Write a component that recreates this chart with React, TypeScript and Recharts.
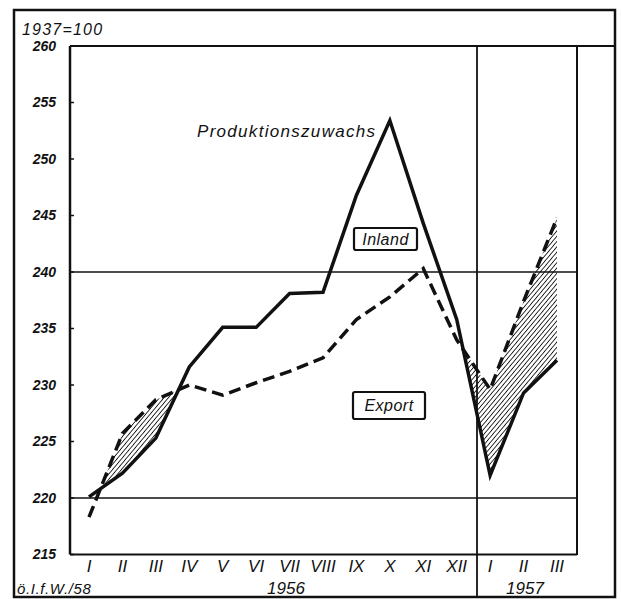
import { Area, ComposedChart, Line, ReferenceLine, XAxis, YAxis } from "recharts";

const months = ["I", "II", "III", "IV", "V", "VI", "VII", "VIII", "IX", "X", "XI", "XII", "I", "II", "III"];
const inland = [220.1, 222.2, 225.3, 231.6, 235.1, 235.1, 238.1, 238.2, 246.8, 253.4, 244.3, 235.8, 222.0, 229.3, 232.2];
const exportIdx = [218.3, 225.7, 228.7, 230.0, 229.1, 230.2, 231.2, 232.4, 235.8, 237.8, 240.3, 234.0, 229.6, 237.4, 244.8];
const yTicks = [215, 220, 225, 230, 235, 240, 245, 250, 255, 260];

const data = months.map((m, i) => ({
  key: `${i}`,
  month: m,
  inland: inland[i],
  exp: exportIdx[i],
}));

const font = "'Liberation Sans', Arial, sans-serif";
const narrow = "'Liberation Sans Narrow', 'Liberation Sans', sans-serif";

function YTick({ x, y, payload }: any) {
  return (
    <g>
      <text
        x={x}
        y={y}
        dy="0.35em"
        textAnchor="end"
        fontFamily={font}
        fontStyle="italic"
        fontWeight="bold"
        fontSize={14}
        fill="#111"
      >
        {payload.value}
      </text>
      <line x1={x + 14} x2={x + 18} y1={y} y2={y} stroke="#111" strokeWidth={1.5} />
    </g>
  );
}

function XTick({ x, y, payload, index }: any) {
  return (
    <text
      x={x}
      y={y}
      dy="0.71em"
      textAnchor="middle"
      fontFamily={narrow}
      fontStyle="italic"
      fontSize={17}
      fill="#111"
    >
      {months[index] ?? payload.value}
    </text>
  );
}

function Box({ x, y, w, h, label }: { x: number; y: number; w: number; h: number; label: string }) {
  return (
    <g>
      <rect x={x} y={y} width={w} height={h} rx={2} fill="#fff" stroke="#111" strokeWidth={2.2} />
      <text
        x={x + w / 2}
        y={y + h / 2}
        dy="0.35em"
        textAnchor="middle"
        fontFamily={font}
        fontStyle="italic"
        fontSize={16}
        letterSpacing={0.5}
        fill="#111"
      >
        {label}
      </text>
    </g>
  );
}

export default function App() {
  return (
    <div style={{ position: "absolute", left: 0, top: 0, width: 621, height: 599, background: "#fff" }}>
      <ComposedChart
        width={621}
        height={599}
        data={data}
        margin={{ top: 46, right: 44, bottom: 14.5, left: 14 }}
      >
        <defs>
          <pattern id="hatch" patternUnits="userSpaceOnUse" width={3.4} height={3.4} patternTransform="rotate(40)">
            <line x1={0} y1={0} x2={0} y2={3.4} stroke="#111" strokeWidth={1.7} />
          </pattern>
        </defs>
        <XAxis
          dataKey="key"
          scale="point"
          padding={{ left: 19, right: 20 }}
          height={30}
          tickSize={0}
          tickMargin={5}
          tickLine={false}
          axisLine={{ stroke: "#111", strokeWidth: 2 }}
          tick={<XTick />}
          interval={0}
        />
        <YAxis
          domain={[215, 260]}
          ticks={yTicks}
          width={56}
          tickSize={0}
          tickMargin={14}
          tickLine={false}
          axisLine={{ stroke: "#111", strokeWidth: 2.5 }}
          tick={<YTick />}
          interval={0}
          allowDataOverflow
        />
        {/* hatch = export above inland: fill under export, then cover under inland */}
        <Area
          type="linear"
          dataKey="exp"
          baseValue={215}
          stroke="none"
          fill="url(#hatch)"
          fillOpacity={1}
          isAnimationActive={false}
          activeDot={false}
        />
        <Area
          type="linear"
          dataKey="inland"
          baseValue={215}
          stroke="none"
          fill="#fff"
          fillOpacity={1}
          isAnimationActive={false}
          activeDot={false}
        />
        <ReferenceLine y={220} stroke="#111" strokeWidth={1.5} />
        <ReferenceLine y={240} stroke="#111" strokeWidth={1.5} />
        <Line
          type="linear"
          dataKey="exp"
          stroke="#111"
          strokeWidth={3.5}
          strokeDasharray="12 6"
          dot={false}
          activeDot={false}
          isAnimationActive={false}
        />
        <Line
          type="linear"
          dataKey="inland"
          stroke="#111"
          strokeWidth={3.5}
          strokeLinejoin="miter"
          dot={false}
          activeDot={false}
          isAnimationActive={false}
        />
      </ComposedChart>
      <svg
        width={621}
        height={599}
        style={{ position: "absolute", left: 0, top: 0, pointerEvents: "none" }}
      >
        <rect x={14} y={10} width={601} height={587} fill="none" stroke="#111" strokeWidth={2.5} />
        <line x1={70} x2={615} y1={46} y2={46} stroke="#111" strokeWidth={1.8} />
        <line x1={577} x2={577} y1={46} y2={555} stroke="#111" strokeWidth={2} />
        <line x1={477} x2={477} y1={46} y2={597} stroke="#111" strokeWidth={1.8} />
        <text x={22} y={35} fontFamily={font} fontStyle="italic" fontSize={16} letterSpacing={1.2} fill="#111">
          1937=100
        </text>
        <text x={197} y={137} fontFamily={font} fontStyle="italic" fontSize={17} letterSpacing={1.3} fill="#111">
          Produktionszuwachs
        </text>
        <Box x={354} y={228} w={63} h={22} label="Inland" />
        <Box x={353} y={392} w={72} h={27} label="Export" />
        <text x={286} y={594} textAnchor="middle" fontFamily={font} fontStyle="italic" fontSize={17} fill="#111">
          1956
        </text>
        <text x={525} y={594} textAnchor="middle" fontFamily={font} fontStyle="italic" fontSize={17} fill="#111">
          1957
        </text>
        <text x={17} y={594} fontFamily={narrow} fontStyle="italic" fontSize={15} letterSpacing={0.6} fill="#111">
          ö.I.f.W./58
        </text>
      </svg>
    </div>
  );
}
